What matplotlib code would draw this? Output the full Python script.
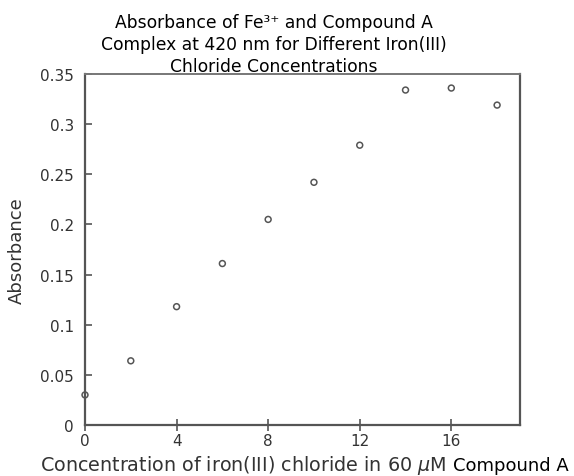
import matplotlib.pyplot as plt

iron_conc = [0, 2, 4, 6, 8, 10, 12, 14, 16, 18]
absorbance = [0.030, 0.064, 0.118, 0.161, 0.205, 0.242, 0.279, 0.334, 0.336, 0.319]
x_ticks = [0, 4, 8, 12, 16]
y_ticks = [0, 0.05, 0.1, 0.15, 0.2, 0.25, 0.3, 0.35]
y_tick_labels = ["0", "0.05", "0.1", "0.15", "0.2", "0.25", "0.3", "0.35"]

fig = plt.figure(figsize=(5.74, 4.77), dpi=100)
ax = fig.add_axes([85 / 574, 51 / 477, 435 / 574, 351 / 477])

ax.scatter(iron_conc, absorbance, s=18, facecolors="none", edgecolors="#555555",
           linewidths=1.1, zorder=3, clip_on=False)

ax.set_xlim(0, 19)
ax.set_ylim(0, 0.35)
ax.set_xticks(x_ticks)
ax.set_yticks(y_ticks)
ax.set_yticklabels(y_tick_labels)

for side in ["left", "bottom", "right"]:
    ax.spines[side].set_color("#555555")
    ax.spines[side].set_linewidth(1.6)
ax.spines["top"].set_color("#777777")
ax.spines["top"].set_linewidth(1.4)

ax.tick_params(axis="y", direction="in", length=5, width=1.2, color="#555555",
               labelsize=11, labelcolor="#333333", pad=8)
ax.tick_params(axis="x", direction="inout", length=8, width=1.2, color="#555555",
               labelsize=11, labelcolor="#333333", pad=2)

ax.set_ylabel("Absorbance", fontsize=13, color="#333333", labelpad=10)
fig.text(40 / 574, 6 / 477, "Concentration of iron(III) chloride in 60 $\\mu$M",
         fontsize=13.8, color="#333333", ha="left", va="baseline")
fig.text(453 / 574, 6 / 477, "Compound A", fontsize=13, color="black",
         ha="left", va="baseline")

fig.text(274 / 574, 1 - 14 / 477,
         "Absorbance of Fe³⁺ and Compound A\nComplex at 420 nm for Different Iron(III)\nChloride Concentrations",
         fontsize=12.3, ha="center", va="top", linespacing=1.3)

fig.savefig("out.png", dpi=100)
